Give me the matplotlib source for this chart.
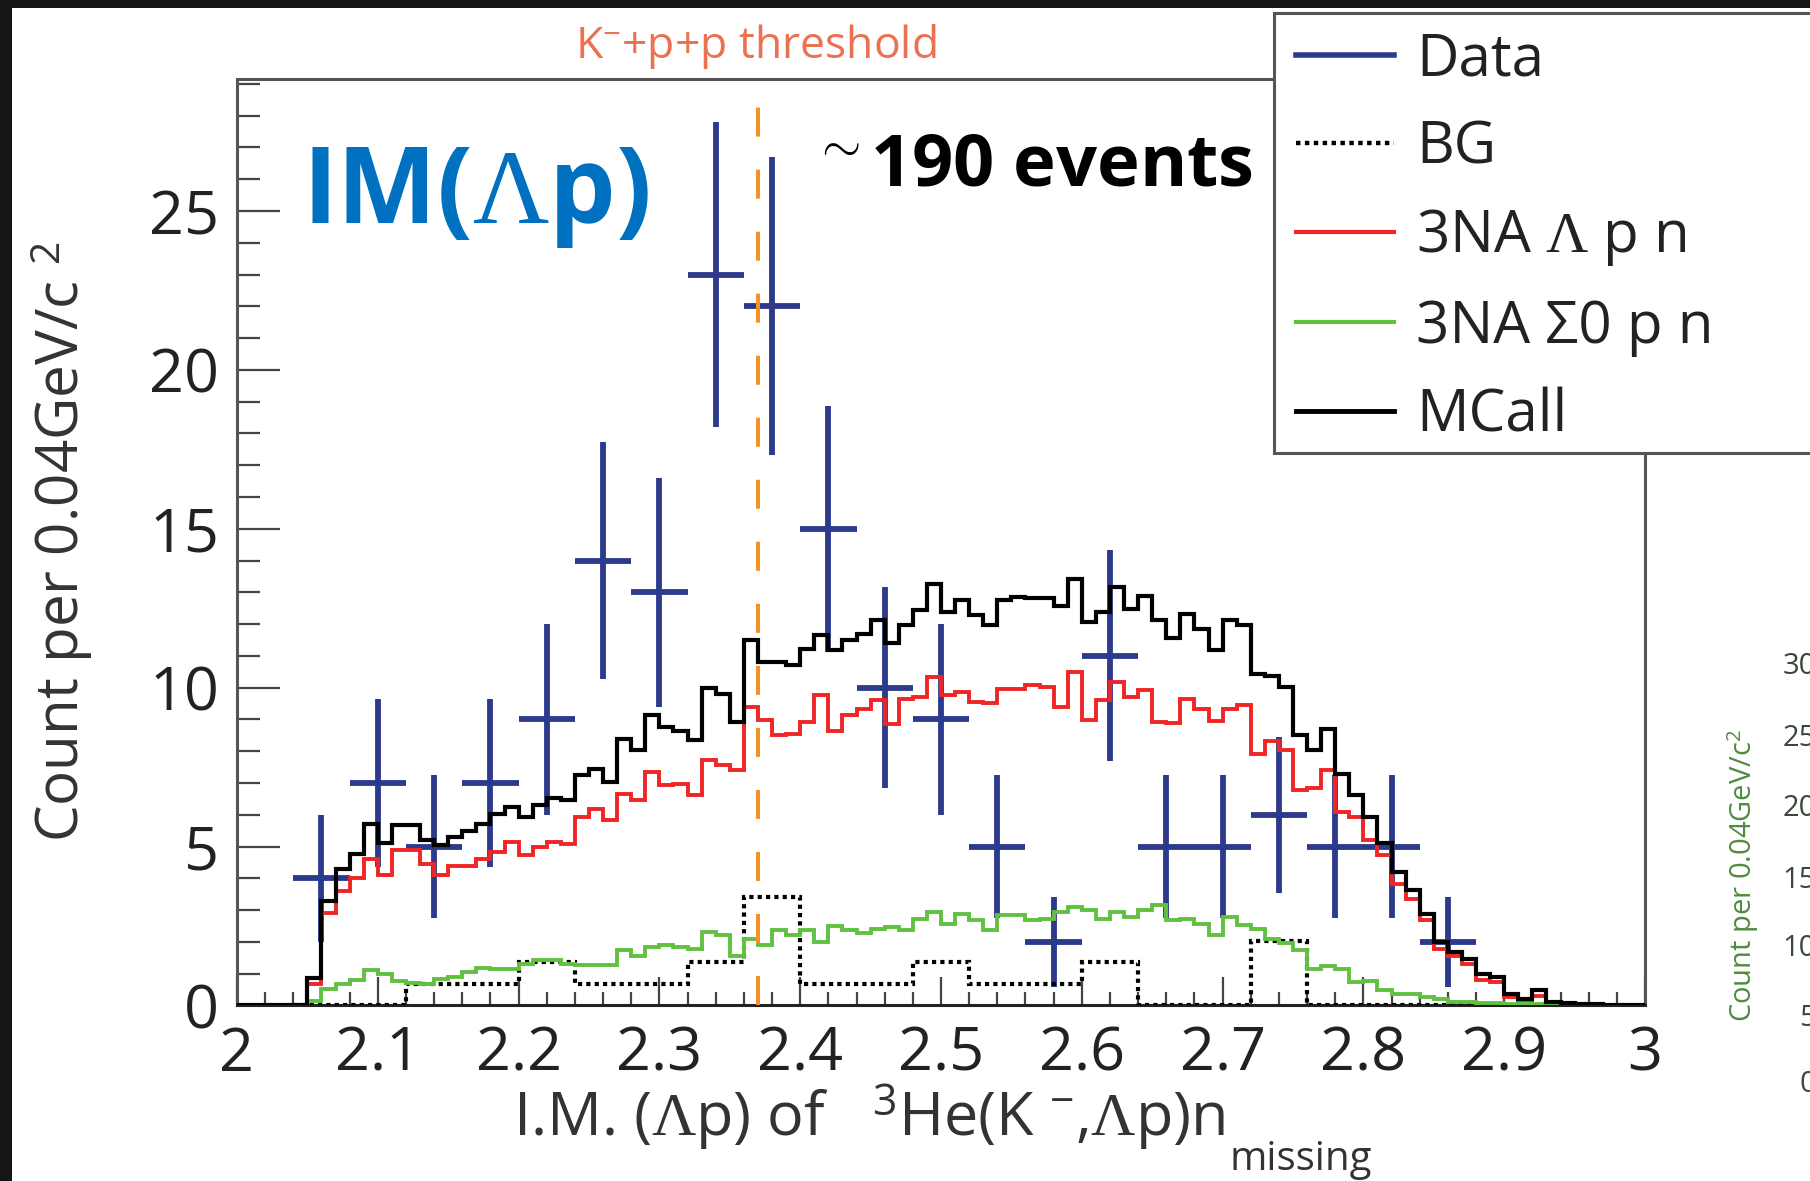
import numpy as np
import matplotlib
matplotlib.use('Agg')
import matplotlib.pyplot as plt
from matplotlib.patches import Rectangle
from matplotlib.lines import Line2D

plt.rcParams['font.family'] = ['Open Sans', 'DejaVu Sans']
plt.rcParams['mathtext.fontset'] = 'custom'
plt.rcParams['mathtext.rm'] = 'Liberation Serif'
plt.rcParams['mathtext.sf'] = 'Open Sans'
plt.rcParams['mathtext.it'] = 'Liberation Serif:italic'
plt.rcParams['mathtext.bf'] = 'Open Sans:bold'

# ---------------- data ----------------
# Data points (0.04 GeV/c^2 bins)
data_center = [2.06, 2.10, 2.14, 2.18, 2.22, 2.26, 2.30, 2.34, 2.38, 2.42, 2.46,
               2.50, 2.54, 2.58, 2.62, 2.66, 2.70, 2.74, 2.78, 2.82, 2.86]
data_count = [4, 7, 5, 7, 9, 14, 13, 23, 22, 15, 10,
              9, 5, 2, 11, 5, 5, 6, 5, 5, 2]
data_err = [2.0, 2.65, 2.24, 2.65, 3.0, 3.74, 3.6, 4.8, 4.69, 3.87, 3.16,
            3.0, 2.24, 1.41, 3.32, 2.24, 2.24, 2.45, 2.24, 2.24, 1.41]
data_halfwidth = 0.02

# BG histogram (same 0.04 binning, edges 2.04 .. 2.88)
bg_lo, bg_hi = 2.04, 2.88
bg_values = [0, 0, 0.68, 0.68, 1.36, 0.68, 0.68, 1.36, 3.4, 0.68, 0.68,
             1.36, 0.68, 0.68, 1.36, 0, 0, 2.04, 0, 0, 0]

# MC histograms (0.01 bins, 2.00 .. 3.00)
mc_lo, mc_hi = 2.0, 3.0
mcall_values = [
    0, 0, 0, 0, 0, 0.86, 3.3, 4.3, 4.77, 5.72,
    5.1, 5.67, 5.67, 5.2, 5.04, 5.3, 5.48, 5.72, 6.03, 6.24,
    5.93, 6.3, 6.54, 6.45, 7.24, 7.45, 7.03, 8.39, 8.03, 9.13,
    8.75, 8.65, 8.36, 10.0, 9.81, 8.92, 11.51, 10.81, 10.81, 10.7,
    11.23, 11.65, 11.2, 11.49, 11.7, 12.12, 11.39, 11.96, 12.43, 13.27,
    12.38, 12.75, 12.28, 11.96, 12.75, 12.85, 12.83, 12.83, 12.56, 13.43,
    12.07, 12.38, 13.17, 12.49, 12.88, 12.12, 11.57, 12.33, 11.86, 11.2,
    12.12, 11.96, 10.44, 10.36, 10.02, 8.5, 8.03, 8.69, 7.29, 6.61,
    5.93, 5.11, 4.2, 3.64, 2.89, 2.0, 1.68, 1.47, 1.0, 0.89,
    0.37, 0.21, 0.47, 0.1, 0.07, 0.05, 0.03, 0.02, 0.02, 0.01]
lambda_pn_values = [
    0, 0, 0, 0, 0, 0.68, 2.9, 3.6, 4.0, 4.6,
    4.1, 4.9, 4.9, 4.46, 4.1, 4.4, 4.4, 4.6, 4.83, 5.14,
    4.72, 5.0, 5.14, 5.09, 5.93, 6.19, 5.82, 6.66, 6.45, 7.35,
    6.93, 6.98, 6.61, 7.73, 7.55, 7.42, 9.39, 8.97, 8.5, 8.55,
    8.92, 9.76, 8.63, 9.13, 9.34, 9.6, 8.87, 9.65, 9.7, 10.34,
    9.76, 9.86, 9.55, 9.52, 9.97, 9.97, 10.07, 10.02, 9.39, 10.49,
    8.97, 9.6, 10.18, 9.7, 9.94, 8.92, 8.89, 9.65, 9.34, 8.95,
    9.34, 9.44, 7.92, 8.32, 8.05, 6.77, 6.85, 7.42, 6.09, 5.93,
    5.2, 4.72, 3.83, 3.36, 2.68, 1.78, 1.57, 1.31, 0.79, 0.73,
    0.26, 0.18, 0.31, 0.08, 0.05, 0.03, 0.02, 0.01, 0.01, 0.0]
sigma_pn_values = [
    0, 0, 0, 0, 0, 0.15, 0.52, 0.68, 0.79, 1.12,
    1.0, 0.77, 0.7, 0.68, 0.84, 0.89, 1.05, 1.19, 1.15, 1.15,
    1.31, 1.44, 1.44, 1.3, 1.28, 1.28, 1.26, 1.73, 1.57, 1.84,
    1.89, 1.84, 1.78, 2.31, 2.2, 1.57, 2.1, 1.89, 2.36, 2.2,
    2.36, 1.99, 2.5, 2.36, 2.28, 2.41, 2.47, 2.36, 2.73, 2.94,
    2.57, 2.89, 2.68, 2.38, 2.83, 2.85, 2.68, 2.73, 2.94, 3.1,
    2.99, 2.73, 2.94, 2.78, 2.99, 3.15, 2.68, 2.73, 2.57, 2.2,
    2.78, 2.52, 2.41, 2.1, 1.96, 1.73, 1.15, 1.23, 1.15, 0.73,
    0.78, 0.5, 0.37, 0.37, 0.25, 0.2, 0.12, 0.1, 0.08, 0.06,
    0.05, 0.04, 0.03, 0.03, 0.02, 0.02, 0.01, 0.0, 0.0, 0.0]

threshold = 2.37
legend_labels = ['Data', 'BG', r'3NA $\mathrm{\Lambda}$ p n', '3NA Σ0 p n', 'MCall']
x_ticks = [2, 2.1, 2.2, 2.3, 2.4, 2.5, 2.6, 2.7, 2.8, 2.9, 3]
x_ticklabels = ['2', '2.1', '2.2', '2.3', '2.4', '2.5', '2.6', '2.7', '2.8', '2.9', '3']
y_ticks = [0, 5, 10, 15, 20, 25]
side_ticklabels = ['30', '25', '20', '15', '10', '5', '0']

# ---------------- style ----------------
C_DATA = '#2d3a8c'
C_RED = '#f02525'
C_GREEN = '#62c040'
C_THR = '#f39325'
C_THR_TXT = '#ec7150'
C_BLUE_TITLE = '#0070c0'

W, H = 1810, 1181
def fx(px):
    return px / W
def fy(py):
    return 1 - py / H

fig = plt.figure(figsize=(W / 100, H / 100), dpi=100, facecolor='#151515')
fig.patches.append(Rectangle((fx(12), 0), 1 - fx(12), fy(8), transform=fig.transFigure,
                             facecolor='white', edgecolor='none', zorder=-10))

ax_left, ax_right, ax_top, ax_bottom = 237, 1645, 78.5, 1005.4
ax = fig.add_axes([fx(ax_left), fy(ax_bottom), (ax_right - ax_left) / W,
                   (ax_bottom - ax_top) / H])
ax.set_facecolor('none')

mc_edges = np.linspace(mc_lo, mc_hi, len(mcall_values) + 1)
bg_edges = np.linspace(bg_lo, bg_hi, len(bg_values) + 1)

ax.errorbar(data_center, data_count, yerr=data_err, xerr=data_halfwidth, fmt='none',
            ecolor=C_DATA, elinewidth=4.2, capsize=0, zorder=2)
ax.stairs(bg_values, bg_edges, color='black', lw=3.0, linestyle=(0, (1.0, 1.0)), zorder=3)
ax.stairs(lambda_pn_values, mc_edges, color=C_RED, lw=2.8, zorder=4)
ax.stairs(sigma_pn_values, mc_edges, color=C_GREEN, lw=2.8, zorder=5)
ax.stairs(mcall_values, mc_edges, color='black', lw=3.0, zorder=6)
thr = ax.axvline(threshold, color=C_THR, lw=2.9, zorder=7)
thr.set_dashes((7.2, 8.2))

ax.set_xlim(2, 3)
ax.set_ylim(0, 29.17)
ax.set_xticks(x_ticks)
ax.set_xticklabels(x_ticklabels)
ax.set_xticks(np.linspace(2, 3, 51), minor=True)
ax.set_yticks(y_ticks)
ax.set_yticks(np.arange(0, 30, 1), minor=True)

ax.tick_params(axis='both', which='both', direction='in', colors='#444444',
               labelcolor='#222222', width=1.6, top=False, right=False)
ax.tick_params(axis='x', which='major', length=20, pad=14, labelsize=44)
ax.tick_params(axis='x', which='minor', length=9.5)
ax.tick_params(axis='y', which='major', length=31, pad=13, labelsize=44)
ax.tick_params(axis='y', which='minor', length=16.5)

for s in ['left', 'right', 'top']:
    ax.spines[s].set_color('#555555')
    ax.spines[s].set_linewidth(2.2)
ax.spines['bottom'].set_color('#222222')
ax.spines['bottom'].set_linewidth(2.2)

ax.set_ylabel(r'Count per 0.04GeV/c $^{\mathsf{2}}$', fontsize=42, color='#333333')
ax.yaxis.set_label_coords((95 - ax_left) / (ax_right - ax_left), 0.5)
ax.set_xlabel(r'I.M. ($\mathrm{\Lambda}$p) of   $^{\mathsf{3}}$He(K $^{\mathsf{-}}$,$\mathrm{\Lambda}$p)n',
              fontsize=44, color='#333333')
ax.xaxis.label.set_horizontalalignment('left')
ax.xaxis.set_label_coords((513 - ax_left) / (ax_right - ax_left),
                          -(1082 - ax_bottom) / (ax_bottom - ax_top))
fig.text(fx(1229), fy(1170), 'missing', ha='left', va='baseline', fontsize=29,
         color='#333333')

# annotations
fig.text(fx(756), fy(58), r'K$^{\mathsf{-}}$+p+p threshold', ha='center', va='baseline',
         fontsize=32, color=C_THR_TXT)
fig.text(fx(302), fy(223), r'IM($\mathrm{\Lambda}$p)', ha='left', va='baseline',
         fontsize=76, fontweight='bold', color=C_BLUE_TITLE)
fig.text(fx(814), fy(185), r'$^{\sim}$190 events', ha='left', va='baseline',
         fontsize=52, fontweight='bold', color='black')

# legend with frame
fig.patches.append(Rectangle((fx(1274), fy(453)), fx(1840) - fx(1274), fy(13) - fy(453),
                             transform=fig.transFigure, facecolor='white',
                             edgecolor='#555555', lw=2.2, zorder=5))
handles = [Line2D([], [], color=C_DATA, lw=4.0),
           Line2D([], [], color='black', lw=3.2, linestyle=(0, (1, 1))),
           Line2D([], [], color=C_RED, lw=3.0),
           Line2D([], [], color=C_GREEN, lw=3.0),
           Line2D([], [], color='black', lw=3.5)]
leg = fig.legend(handles, legend_labels, loc='upper left',
                 bbox_to_anchor=(fx(1296), fy(31)), bbox_transform=fig.transFigure,
                 frameon=False, fontsize=42, handlelength=1.68, handletextpad=0.38,
                 labelspacing=0.51, borderpad=0, borderaxespad=0)
leg.set_zorder(6)
for t in leg.get_texts():
    t.set_color('#222222')

# remnant of neighbouring panel on the right
fig.text(fx(1743), fy(875), r'Count per 0.04GeV/c$^{\mathsf{2}}$', rotation=90,
         ha='center', va='center', fontsize=21, color='#4e8c3e')
side_tick_y = [667, 739, 808, 880, 949, 1018, 1085]
for lab, py in zip(side_ticklabels, side_tick_y):
    fig.text(fx(1816), fy(py), lab, ha='right', va='center', fontsize=21, color='#3a473a')

fig.savefig('out.png', dpi=100, facecolor=fig.get_facecolor())
